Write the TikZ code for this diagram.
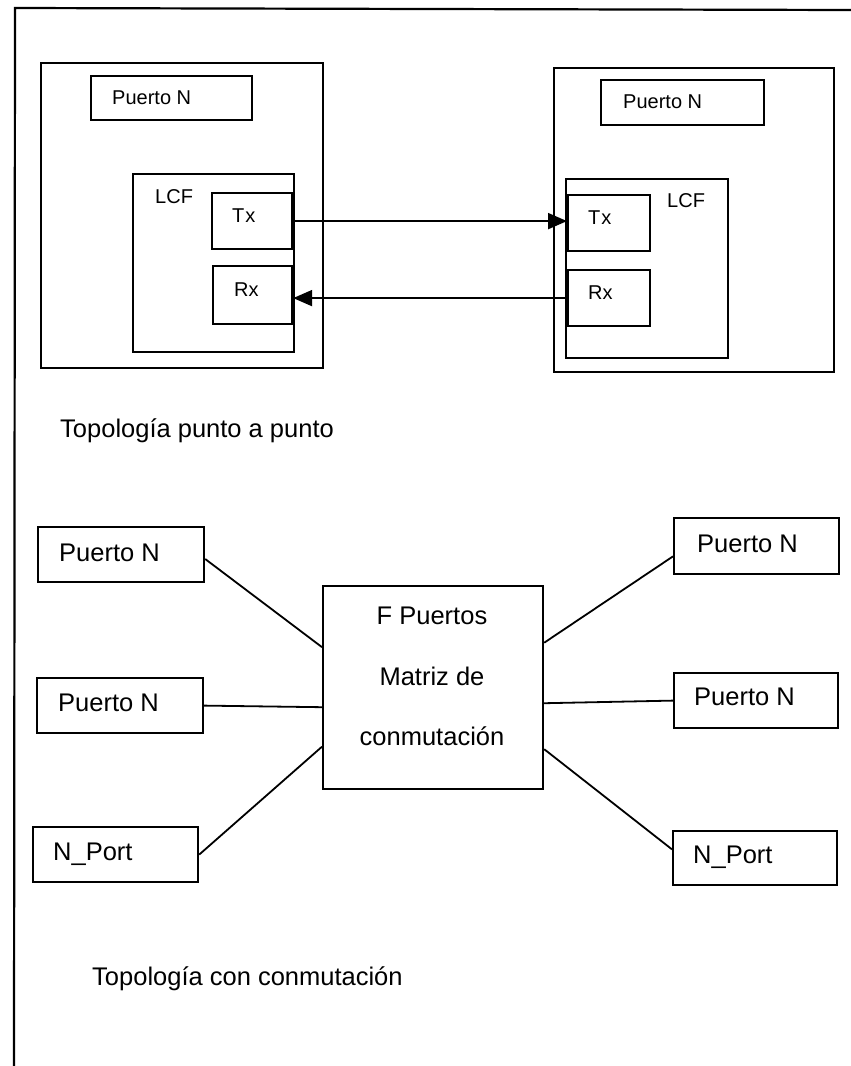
\documentclass[tikz,border=0pt]{standalone}
\usepackage{fontspec}
\setmainfont{Liberation Sans}
\usetikzlibrary{arrows.meta}
\tikzset{
  box/.style={draw, line width=2.2pt, inner sep=0pt, anchor=north west},
  small/.style={font=\fontsize{20}{24}\selectfont, inner sep=0pt, anchor=base west},
  big/.style={font=\fontsize{25.5}{30}\selectfont, inner sep=0pt, anchor=base west},
  link/.style={line width=1.8pt},
  flow/.style={line width=2pt, -{Triangle[length=19pt,width=16pt]}},
}
\begin{document}
\begin{tikzpicture}[x=1pt,y=-1pt]
\useasboundingbox (0,0) rectangle (851,1066);
% page frame (top and left edges only)
\draw[line width=2.2pt] (851,10) -- (15,8) -- (14,1066);

% ---- point-to-point: left port ----
\node[box, minimum width=282, minimum height=305] (lout) at (40,62) {};
\node[box, minimum width=161, minimum height=44] (lpn) at (90,75) {};
\node[box, minimum width=161, minimum height=178] (llcf) at (132,173) {};
\node[box, minimum width=80, minimum height=56] (ltx) at (211,192) {};
\node[box, minimum width=79, minimum height=58] (lrx) at (212,265) {};
\node[small] (lpnt) at (112,104) {Puerto N};
\node[small] (llcft) at (155,203) {LCF};
\node[small] (ltxt) at (232,222) {T\kern1pt x};
\node[small] (lrxt) at (234,296) {Rx};

% ---- point-to-point: right port ----
\node[box, minimum width=280, minimum height=304] (rout) at (553,67) {};
\node[box, minimum width=163, minimum height=45] (rpn) at (600,79) {};
\node[box, minimum width=162, minimum height=179] (rlcf) at (565,178) {};
\node[box, minimum width=82, minimum height=56] (rtx) at (567,194) {};
\node[box, minimum width=82, minimum height=56] (rrx) at (567,269) {};
\node[small] (rpnt) at (623,108) {Puerto N};
\node[small] (rlcft) at (667,207) {LCF};
\node[small] (rtxt) at (588,224) {T\kern1pt x};
\node[small] (rrxt) at (588,299) {Rx};

% links between transmitters and receivers
\draw[flow] (ltx.east) -- (ltx.east -| rtx.west);
\draw[flow] (rrx.west) -- (rrx.west -| lrx.east);

\node[big] (cap1) at (60,437) {Topología punto a punto};

% ---- switched topology ----
\node[box, minimum width=220, minimum height=203] (sw) at (322,585) {};
\node[big, anchor=base] (swt1) at (432,624) {F Puertos};
\node[big, anchor=base] (swt2) at (432,685) {Matriz de};
\node[big, anchor=base] (swt3) at (432,745) {conmutación};

\node[box, minimum width=166, minimum height=55] (bl1) at (37,526) {};
\node[box, minimum width=166, minimum height=55] (bl2) at (36,677) {};
\node[box, minimum width=165, minimum height=55] (bl3) at (32,826) {};
\node[big] (bl1t) at (59,561) {Puerto N};
\node[big] (bl2t) at (58,711) {Puerto N};
\node[big] (bl3t) at (53,860) {N\_Port};

\node[box, minimum width=165, minimum height=56] (br1) at (673,517) {};
\node[box, minimum width=164, minimum height=55] (br2) at (673,672) {};
\node[box, minimum width=164, minimum height=54] (br3) at (672,830) {};
\node[big] (br1t) at (697,552) {Puerto N};
\node[big] (br2t) at (694,705) {Puerto N};
\node[big] (br3t) at (693,863) {N\_Port};

\draw[link] (bl1.357) -- (sw.160);
\draw[link] (bl2.east) -- (sw.190);
\draw[link] (bl3.east) -- (sw.208);
\draw[link] (sw.22) -- (br1.187);
\draw[link] (sw.352) -- (br2.west);
\draw[link] (sw.331) -- (br3.174);

\node[big] (cap2) at (92,985) {Topología con conmutación};
\end{tikzpicture}
\end{document}
